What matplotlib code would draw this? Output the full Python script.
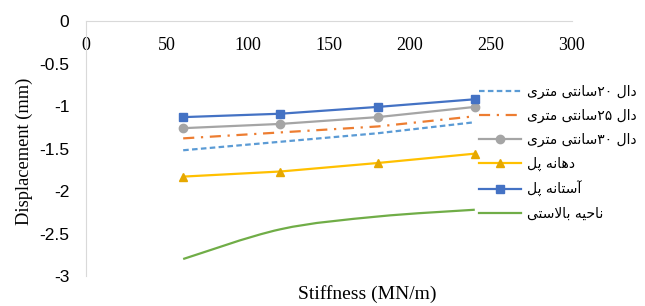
import matplotlib
matplotlib.use("Agg")
import matplotlib.pyplot as plt
from matplotlib.path import Path
from matplotlib.patches import PathPatch
from matplotlib.lines import Line2D

# data
stiffness = [60, 120, 180, 240]
dal20 = [-1.52, -1.42, -1.32, -1.19]
dal25 = [-1.38, -1.31, -1.24, -1.12]
dal30 = [-1.26, -1.21, -1.13, -1.01]
dahaneh = [-1.83, -1.77, -1.67, -1.56]
astaneh = [-1.13, -1.09, -1.01, -0.92]
ballast = [-2.80, -2.45, -2.30, -2.22]
names = ["دال ۲۰سانتی متری", "دال ۲۵سانتی متری", "دال ۳۰سانتی متری",
         "دهانه پل", "آستانه پل", "ناحیه بالاستی"]
xticks = [0, 50, 100, 150, 200, 250, 300]
yticks = [0, -0.5, -1, -1.5, -2, -2.5, -3]

# small arabic/persian shaper (matplotlib has no text shaping)
DUAL = {'ب': (0xFE8F, 0xFE90, 0xFE91, 0xFE92), 'پ': (0xFB56, 0xFB57, 0xFB58, 0xFB59),
        'ت': (0xFE95, 0xFE96, 0xFE97, 0xFE98), 'ح': (0xFEA1, 0xFEA2, 0xFEA3, 0xFEA4),
        'س': (0xFEB1, 0xFEB2, 0xFEB3, 0xFEB4), 'ل': (0xFEDD, 0xFEDE, 0xFEDF, 0xFEE0),
        'م': (0xFEE1, 0xFEE2, 0xFEE3, 0xFEE4), 'ن': (0xFEE5, 0xFEE6, 0xFEE7, 0xFEE8),
        'ه': (0xFEE9, 0xFEEA, 0xFEEB, 0xFEEC), 'ی': (0xFBFC, 0xFBFD, 0xFBFE, 0xFBFF)}
RIGHT = {'ا': (0xFE8D, 0xFE8E), 'آ': (0xFE81, 0xFE82), 'د': (0xFEA9, 0xFEAA), 'ر': (0xFEAD, 0xFEAE)}
DIGITS = "۰۱۲۳۴۵۶۷۸۹"


def shape(s):
    res = []
    i = 0
    while i < len(s):
        c = s[i]
        p = i > 0 and s[i - 1] in DUAL
        nxt = s[i + 1] if i + 1 < len(s) else ''
        if c == 'ل' and nxt == 'ا':
            res.append(chr(0xFEFC if p else 0xFEFB))
            i += 2
            continue
        if c in DUAL:
            q = nxt in DUAL or nxt in RIGHT
            res.append(chr(DUAL[c][(3 if q else 1) if p else (2 if q else 0)]))
        elif c in RIGHT:
            res.append(chr(RIGHT[c][1 if p else 0]))
        else:
            res.append(c)
        i += 1
    vis = res[::-1]
    out = []
    run = []
    for c in vis:
        if c in DIGITS:
            run.append(c)
        else:
            out += run[::-1]
            run = []
            out.append(c)
    out += run[::-1]
    return "".join(out)


fig = plt.figure(figsize=(6.45, 3.06), dpi=100)
ax = fig.add_axes([0.1333, 0.098, 0.7535, 0.833])

ax.plot(stiffness, dal20, color="#5B9BD5", lw=1.6, ls=(0, (2.5, 1.5)))
ax.plot(stiffness, dal25, color="#ED7D31", lw=1.6, ls=(0, (5, 3, 1, 3)))
ax.plot(stiffness, dal30, color="#A5A5A5", lw=1.6, marker="o", ms=6)
ax.plot(stiffness, dahaneh, color="#FFC000", lw=1.6, marker="^", ms=6,
        markerfacecolor="#E6A800", markeredgecolor="#E6A800")
ax.plot(stiffness, astaneh, color="#4472C4", lw=1.6, marker="s", ms=6)

# smoothed line like excel (bezier through the points)
pts = list(zip(stiffness, ballast))
verts = [pts[0]]
codes = [Path.MOVETO]
t = 0.5 / 3
for k in range(len(pts) - 1):
    p0 = pts[k - 1] if k > 0 else pts[k]
    p1, p2 = pts[k], pts[k + 1]
    p3 = pts[k + 2] if k + 2 < len(pts) else pts[k + 1]
    c1 = (p1[0] + (p2[0] - p0[0]) * t, p1[1] + (p2[1] - p0[1]) * t)
    c2 = (p2[0] - (p3[0] - p1[0]) * t, p2[1] - (p3[1] - p1[1]) * t)
    verts += [c1, c2, p2]
    codes += [Path.CURVE4] * 3
ax.add_patch(PathPatch(Path(verts, codes), fill=False, edgecolor="#70AD47", lw=1.6))

ax.set_xlim(0, 300)
ax.set_ylim(-3, 0)
ax.set_xticks(xticks)
ax.set_yticks(yticks)
ax.set_yticklabels([f"{v:g}" for v in yticks], family="Liberation Sans", fontsize=12.5)
ax.set_xticklabels([str(v) for v in xticks], family="Liberation Serif", fontsize=13)
ax.xaxis.tick_top()
ax.tick_params(axis="x", length=0, pad=-24)
ax.tick_params(axis="y", length=0, pad=12)
for s in ["right", "bottom"]:
    ax.spines[s].set_visible(False)
for s in ["top", "left"]:
    ax.spines[s].set_color("#D9D9D9")

ax.set_ylabel("Displacement (mm)", family="Liberation Serif", fontsize=13.2)
ax.yaxis.set_label_coords(-0.108, 0.49)
fig.text(0.569, 0.022, "Stiffness (MN/m)", family="Liberation Serif", fontsize=14, ha="center")

handles = [
    Line2D([], [], color="#5B9BD5", lw=1.6, ls=(0, (2.5, 1.5))),
    Line2D([], [], color="#ED7D31", lw=1.6, ls=(0, (5, 3, 1, 3))),
    Line2D([], [], color="#A5A5A5", lw=1.6, marker="o", ms=6),
    Line2D([], [], color="#FFC000", lw=1.6, marker="^", ms=6,
           markerfacecolor="#E6A800", markeredgecolor="#E6A800"),
    Line2D([], [], color="#4472C4", lw=1.6, marker="s", ms=6),
    Line2D([], [], color="#70AD47", lw=1.6),
]
fig.legend(handles, [shape(n) for n in names], loc="upper left",
           bbox_to_anchor=(0.724, 0.765), frameon=False, handlelength=3.0,
           handletextpad=0.4, labelspacing=0.71,
           prop={"family": "DejaVu Sans", "size": 10})

fig.savefig("out.png", dpi=100)
